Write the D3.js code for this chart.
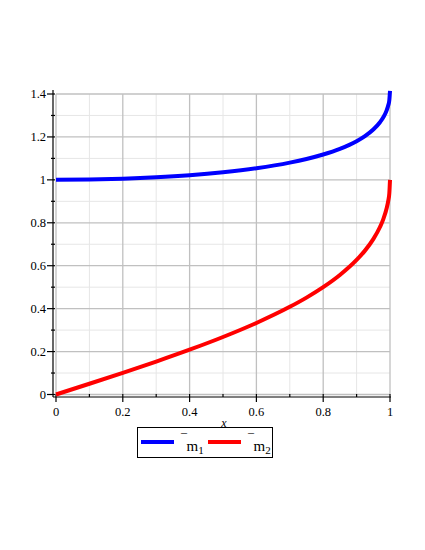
<!DOCTYPE html>
<html><head><meta charset="utf-8">
<script src="https://cdn.jsdelivr.net/npm/d3@7"></script>
<style>body{margin:0;background:#fff}</style>
</head><body>
<svg id="c" width="425" height="550"></svg>
<script>
const xs = [0,0.1,0.2,0.3,0.4,0.5,0.6,0.7,0.75,0.8,0.85,0.9,0.925,0.95,0.97,0.98,0.99,0.995,0.998,1];
const m1 = [1,1.0013,1.0051,1.0117,1.0215,1.0353,1.0541,1.0802,1.0972,1.1180,1.1445,1.1802,1.2039,1.2345,1.2684,1.2915,1.3239,1.3485,1.3715,1.4142];
const m2 = [0,0.0501,0.1010,0.1535,0.2087,0.2679,0.3333,0.4084,0.4514,0.5,0.5567,0.6268,0.6703,0.7239,0.7803,0.8174,0.8676,0.9046,0.9387,1];
const xTicks = [0,0.2,0.4,0.6,0.8,1];
const yTicks = [0,0.2,0.4,0.6,0.8,1,1.2,1.4];
const xMinor = [0.1,0.3,0.5,0.7,0.9];
const yMinor = [0.1,0.3,0.5,0.7,0.9,1.1,1.3];
const seriesNames = ["1","2"];
const colors = ["#0000ff","#ff0000"];

const svg = d3.select("#c");
const x = d3.scaleLinear().domain([0,1]).range([56,390]);
const y = d3.scaleLinear().domain([0,1.4]).range([394.5,94]);
const font = "'Liberation Serif','Times New Roman',serif";

// minor grid
const g = svg.append("g");
g.selectAll(".mx").data(xMinor).join("line")
  .attr("x1",d=>x(d)).attr("x2",d=>x(d)).attr("y1",y(0)).attr("y2",y(1.4))
  .attr("stroke","#e6e6e6").attr("stroke-width",1);
g.selectAll(".my").data(yMinor).join("line")
  .attr("y1",d=>y(d)).attr("y2",d=>y(d)).attr("x1",x(0)).attr("x2",x(1))
  .attr("stroke","#e6e6e6").attr("stroke-width",1);
// major grid
g.selectAll(".gx").data(xTicks).join("line")
  .attr("x1",d=>x(d)).attr("x2",d=>x(d)).attr("y1",y(0)).attr("y2",y(1.4))
  .attr("stroke","#c0c0c0").attr("stroke-width",1.3);
g.selectAll(".gy").data(yTicks).join("line")
  .attr("y1",d=>y(d)).attr("y2",d=>y(d)).attr("x1",x(0)).attr("x2",x(1))
  .attr("stroke","#c0c0c0").attr("stroke-width",1.3);

// axes
const axX = 53, axY = 397;
svg.append("line").attr("x1",axX).attr("x2",axX).attr("y1",90).attr("y2",axY).attr("stroke","#000").attr("stroke-width",1.2);
svg.append("line").attr("x1",axX).attr("x2",x(1)+1).attr("y1",axY).attr("y2",axY).attr("stroke","#000").attr("stroke-width",1.2);
// y ticks
svg.selectAll(".yt").data(yTicks).join("line")
  .attr("x1",axX-6).attr("x2",axX+2).attr("y1",d=>y(d)).attr("y2",d=>y(d)).attr("stroke","#000").attr("stroke-width",1.2);
svg.selectAll(".ymt").data(yMinor).join("line")
  .attr("x1",axX-2).attr("x2",axX+2).attr("y1",d=>y(d)).attr("y2",d=>y(d)).attr("stroke","#000").attr("stroke-width",1.2);
svg.selectAll(".ytl").data(yTicks).join("text")
  .attr("x",46).attr("y",d=>y(d)+4).attr("text-anchor","end")
  .attr("font-family",font).attr("font-size",12.5).text(d=>d3.format("~g")(d));
// x ticks
svg.selectAll(".xt").data(xTicks).join("line")
  .attr("x1",d=>x(d)).attr("x2",d=>x(d)).attr("y1",axY-3).attr("y2",axY+5).attr("stroke","#000").attr("stroke-width",1.2);
svg.selectAll(".xmt").data(xMinor).join("line")
  .attr("x1",d=>x(d)).attr("x2",d=>x(d)).attr("y1",axY-3).attr("y2",axY).attr("stroke","#000").attr("stroke-width",1.2);
svg.selectAll(".xtl").data(xTicks).join("text")
  .attr("x",d=>x(d)).attr("y",416).attr("text-anchor","middle")
  .attr("font-family",font).attr("font-size",12.5).text(d=>d3.format("~g")(d));
svg.append("text").attr("x",224).attr("y",427).attr("text-anchor","middle")
  .attr("font-family",font).attr("font-style","italic").attr("font-size",12).text("x");

// curves
const line = d3.line().x((d,i)=>x(xs[i])).y(d=>y(d)).curve(d3.curveMonotoneX);
[m1,m2].forEach((s,i)=>{
  svg.append("path").attr("d",line(s)).attr("fill","none")
    .attr("stroke",colors[i]).attr("stroke-width",4);
});

// legend
svg.append("rect").attr("x",137.5).attr("y",427.5).attr("width",135).attr("height",30)
  .attr("fill","#fff").attr("stroke","#000").attr("stroke-width",1);
const lx = [141,208];
seriesNames.forEach((n,i)=>{
  svg.append("line").attr("x1",lx[i]).attr("x2",lx[i]+33).attr("y1",442).attr("y2",442)
    .attr("stroke",colors[i]).attr("stroke-width",4);
  const t = svg.append("text").attr("x",lx[i]+40).attr("y",451)
    .attr("font-family",font).attr("font-size",15);
  t.append("tspan").attr("font-size",12).attr("dy",-8).text("¯");
  t.append("tspan").attr("dy",8).attr("dx",-0.5).text("m");
  t.append("tspan").attr("font-size",11).attr("dy",3).text(n);
});
</script>
</body></html>
